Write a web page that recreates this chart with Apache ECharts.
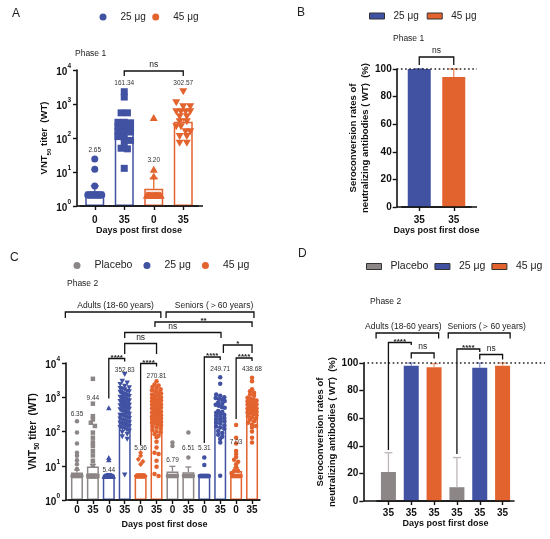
<!DOCTYPE html>
<html>
<head>
<meta charset="utf-8">
<title>VNT50 titers and seroconversion</title>
<style>
  html, body { margin: 0; padding: 0; background: #fff; }
  #main { width: 550px; height: 539px; }
</style>
<script src="https://cdn.jsdelivr.net/npm/echarts@6/dist/echarts.min.js"></script>
</head>
<body>
<div id="main"></div>
<script>
// ---------- data ----------

// A: phase 1, VNT50 titer (geometric means, upper error, individual titers)
const daysA = ['0', '35', '0', '35'];
const gmtA = [2.65, 161.34, 3.20, 302.57];
const gmtHiA = [3.9, 300, 6.6, 355];
const a25d0 = [24, 12, 3.9, 2.1, 2.1, 2.1, 2.1, 2.1, 2.1, 2.1, 2.1, 2.1, 2.1, 2.1, 2.1, 2.1, 2.1, 2.1, 2.1, 2.1];
const a25d35 = [2300, 1600, 550, 550, 290, 290, 280, 215, 215, 210, 160, 155, 150, 110, 105, 85, 70, 50, 48, 12.8];
const a45d0 = [400, 12, 7.6, 2.1, 2.1, 2.1, 2.1, 2.1, 2.1, 2.1, 2.1, 2.1, 2.1, 2.1, 2.1, 2.1, 2.1, 2.1, 2.1, 2.1];
const a45d35 = [2300, 1090, 830, 830, 590, 590, 590, 590, 423, 423, 300, 300, 215, 215, 153, 153, 110, 110, 70, 70];

// B: phase 1, seroconversion (%)
const daysB = ['35', '35'];
const seroB = [100, 94.2];
const seroHiB = [100, 100];

// C: phase 2, VNT50 titer; adults then seniors, each placebo / 25 / 45, day 0 and 35
const daysC = ['0', '35', '0', '35', '0', '35', '0', '35', '0', '35', '0', '35'];
const gmtC = [6.35, 9.44, 5.44, 352.83, 5.36, 270.81, 6.79, 6.51, 5.31, 249.71, 7.03, 438.68];
const gmtHiC = [7.5, 11, 5.9, 420, 5.7, 330, 9.6, 9.2, 5.5, 320, 8.6, 520];
const cPd0a = [200, 93, 45, 24, 19.5, 14.5, 11, 8, 5, 5, 5, 5, 5, 5, 5, 5, 5, 5, 5, 5, 5, 5, 5, 5];
const cPd35a = [3450, 650, 280, 225, 180, 145, 93, 66, 48, 38, 27, 20, 14, 10, 5, 5, 5, 5, 5, 5, 5, 5, 5, 5, 5, 5, 5, 5, 5, 5];
const c25d0a = [495, 17.4, 15, 5, 5, 5, 5, 5, 5, 5, 5, 5, 5, 5, 5, 5, 5, 5, 5, 5, 5, 5, 5, 5, 5];
const c25d35a = [4600, 2950, 2600, 2350, 2100, 1900, 1800, 1700, 1650, 1500, 1450, 1400, 1300, 1250, 1200,
  1150, 1100, 1050, 1000, 980, 950, 900, 880, 850, 820, 800, 780, 750, 720, 700, 690, 650, 640, 620, 600,
  580, 560, 550, 530, 510, 500, 480, 470, 450, 430, 420, 400, 390, 370, 350, 340, 320, 300, 290, 280, 260,
  250, 240, 230, 210, 200, 190, 180, 175, 165, 160, 150, 145, 140, 130, 125, 120, 110, 103, 95, 83, 70, 59, 5.4];
const c45d0a = [24, 19.5, 15.5, 13.3, 11.1, 5, 5, 5, 5, 5, 5, 5, 5, 5, 5, 5, 5, 5, 5, 5, 5, 5, 5, 5, 5, 5, 5, 5, 5];
const c45d35a = [2950, 2350, 2200, 2000, 1850, 1700, 1600, 1500, 1400, 1300, 1200, 1150, 1100, 1000, 950,
  900, 850, 800, 760, 720, 690, 650, 620, 600, 570, 540, 510, 490, 470, 450, 420, 400, 380, 360, 340, 330,
  310, 300, 280, 270, 260, 240, 230, 220, 210, 200, 190, 180, 170, 160, 150, 140, 130, 120, 110, 100, 95,
  85, 75, 68, 50, 34, 24, 22, 14, 9.3, 5.7, 5];
const cPd0s = [48, 38, 5, 5, 5, 5, 5, 5, 5, 5, 5, 5, 5, 5, 5, 5];
const cPd35s = [93, 17.4, 5, 5, 5, 5, 5, 5, 5, 5, 5, 5, 5, 5, 5, 5];
const c25d0s = [17.4, 10.6, 5, 5, 5, 5, 5, 5, 5, 5, 5, 5, 5, 5, 5, 5, 5, 5, 5, 5, 5, 5];
const c25d35s = [3840, 2460, 1200, 1100, 1000, 950, 900, 850, 780, 700, 650, 600, 560, 520, 490, 400, 380,
  350, 330, 310, 290, 270, 250, 230, 210, 200, 180, 170, 150, 140, 130, 120, 103, 90, 80, 70, 60, 48, 5.1];
const c45d0s = [155, 66, 45, 27, 22, 18, 15, 13, 11, 9, 7, 7, 6, 5, 5, 5, 5, 5, 5, 5, 5, 5, 5, 5, 5, 5, 5];
const c45d35s = [3700, 2950, 1700, 1500, 1350, 1200, 1100, 970, 900, 850, 800, 760, 720, 680, 650, 620, 600,
  570, 550, 520, 500, 480, 460, 440, 420, 400, 380, 360, 340, 320, 300, 280, 260, 240, 220, 200, 180, 160,
  145, 130, 100, 66, 48];

// D: phase 2, seroconversion (%)
const daysD = ['35', '35', '35', '35', '35', '35'];
const seroD = [21, 98, 97, 10, 96.5, 98];
const seroHiD = [35, 100, 99.5, 31.5, 100, 100];

// ---------- styling ----------
const FONT = 'Arial, "Liberation Sans", sans-serif';
const BLUE = '#4152A3', ORANGE = '#E3632E', GRAY = '#8C8686', INK = '#111';
const colA = [BLUE, BLUE, ORANGE, ORANGE];
const colC = [GRAY, GRAY, BLUE, BLUE, ORANGE, ORANGE, GRAY, GRAY, BLUE, BLUE, ORANGE, ORANGE];
const colD = [GRAY, BLUE, ORANGE, GRAY, BLUE, ORANGE];
const errD = ['#BDB7B7', '#8A96D0', '#EFA17F', '#BDB7B7', '#8A96D0', '#EFA17F'];
const INV_TRI = 'path://M0,0L10,0L5,8.66Z';

// where the mean values are written (data units)
const labelAtA = [44, 4050, 22.5, 4050];
const labelAtC = [316, 910, 7.6, 6000, 32, 4100, 14.6, 32, 32, 6400, 48, 6400];

const grids = [
  { left: 80, top: 70, width: 118, height: 136 },   // A
  { left: 402, top: 69, width: 69, height: 138 },   // B
  { left: 69, top: 363, width: 191, height: 137 },  // C
  { left: 377, top: 363, width: 137, height: 138 }  // D
];

// spread tied values sideways so every point stays visible
function swarm(values, cat, decadePx, size, halfWidth) {
  const bins = new Map();
  values.forEach(v => {
    const k = Math.round(Math.log10(v) * decadePx / (size * 0.8));
    if (!bins.has(k)) bins.set(k, []);
    bins.get(k).push(v);
  });
  const out = [];
  bins.forEach(list => {
    const n = list.length;
    const gap = n > 1 ? Math.min(size * 0.9, 2 * halfWidth / (n - 1)) : 0;
    list.forEach((v, j) => out.push({ value: [cat, v], symbolOffset: [(j - (n - 1) / 2) * gap, 0] }));
  });
  return out;
}

function dots(name, gi, values, cat, symbol, size, color) {
  const s = Array.isArray(size) ? size[0] : size;
  const g = grids[gi];
  const half = gi === 0 ? 7 : 4.5;
  return {
    type: 'scatter', name, xAxisIndex: gi, yAxisIndex: gi, symbol, symbolSize: size,
    z: 3, silent: true, itemStyle: { color, opacity: 1 },
    data: swarm(values, cat, g.height / 4, s, half)
  };
}

function bars(gi, values, colors, width, hollow) {
  return {
    type: 'bar', xAxisIndex: gi, yAxisIndex: gi, barWidth: width, z: 2, silent: true,
    data: values.map((v, i) => ({
      value: v,
      itemStyle: hollow ? { color: '#fff', borderColor: colors[i], borderWidth: 1.5 } : { color: colors[i] }
    }))
  };
}

function errorBars(gi, means, his, colors, capW) {
  return {
    type: 'custom', xAxisIndex: gi, yAxisIndex: gi, z: 4, silent: true, clip: false,
    data: means.map((m, i) => [i, m, his[i]]),
    encode: { x: 0, y: [1, 2] },
    renderItem(params, api) {
      const c = api.value(0);
      const mid = api.coord([c, api.value(1)]);
      const top = api.coord([c, api.value(2)]);
      const st = { stroke: colors[params.dataIndex], lineWidth: 1.3 };
      return {
        type: 'group', children: [
          { type: 'line', shape: { x1: mid[0], y1: mid[1], x2: top[0], y2: top[1] }, style: st },
          { type: 'line', shape: { x1: top[0] - capW / 2, y1: top[1], x2: top[0] + capW / 2, y2: top[1] }, style: st }
        ]
      };
    }
  };
}

function meanLabels(gi, means, at, size) {
  return {
    type: 'custom', xAxisIndex: gi, yAxisIndex: gi, z: 5, silent: true, clip: false,
    data: means.map((m, i) => [i, at[i]]),
    renderItem(params, api) {
      const p = api.coord([api.value(0), api.value(1)]);
      return {
        type: 'text', x: p[0], y: p[1],
        style: { text: means[params.dataIndex].toFixed(2), align: 'center', verticalAlign: 'middle',
                 font: size + 'px ' + FONT, fill: '#333' }
      };
    }
  };
}

// significance / group brackets: c = category position, top/l1/l2 = px from grid top
function brackets(gi, list, yRef) {
  return {
    type: 'custom', xAxisIndex: gi, yAxisIndex: gi, z: 6, silent: true, clip: false,
    data: list.map(() => [0, yRef]),
    renderItem(params, api) {
      const b = list[params.dataIndex];
      const cs = params.coordSys;
      const x0 = api.coord([0, yRef])[0];
      const band = api.coord([1, yRef])[0] - x0;
      const xa = x0 + b.c1 * band, xb = x0 + b.c2 * band, yt = cs.y + b.top;
      const star = b.text.charAt(0) === '*';
      return {
        type: 'group', children: [
          { type: 'polyline', shape: { points: [[xa, cs.y + b.l1], [xa, yt], [xb, yt], [xb, cs.y + b.l2]] },
            style: { stroke: INK, lineWidth: 1.3, fill: 'none' } },
          { type: 'text', x: (xa + xb) / 2 + (b.dx || 0), y: star ? yt + 3 : yt - 1.5,
            style: { text: b.text, align: 'center', verticalAlign: 'bottom', fill: '#222',
                     font: (star ? 'bold 8px ' : (b.size || 8.5) + 'px ') + FONT } }
        ]
      };
    }
  };
}

// bottom axis line reaching the offset y axis, plus optional dotted 100 % line
function frame(gi, yRef, left, right, dotted) {
  return {
    type: 'custom', xAxisIndex: gi, yAxisIndex: gi, z: 7, silent: true, clip: false,
    data: [[0, yRef]],
    renderItem(params, api) {
      const cs = params.coordSys;
      const kids = [{ type: 'line', shape: { x1: cs.x - left, y1: cs.y + cs.height, x2: cs.x + cs.width + right.axis, y2: cs.y + cs.height },
                      style: { stroke: INK, lineWidth: 1.6 } }];
      if (dotted) {
        const y = api.coord([0, 100])[1];
        kids.push({ type: 'line', shape: { x1: cs.x - left, y1: y, x2: cs.x + cs.width + right.dot, y2: y },
                    style: { stroke: '#222', lineWidth: 1.4, lineDash: [1.6, 2.6] } });
      }
      return { type: 'group', children: kids };
    }
  };
}

const axisLineStyle = { show: true, lineStyle: { color: INK, width: 1.6 } };
const tickStyle = { show: true, length: 4, lineStyle: { color: INK, width: 1.4 } };

function xAxis(gi, days, margin, gap) {
  return {
    type: 'category', gridIndex: gi, data: days,
    axisLine: axisLineStyle,
    axisTick: Object.assign({ alignWithLabel: true, interval: 0 }, tickStyle),
    axisLabel: { interval: 0, margin, color: INK, fontWeight: 'bold', fontSize: 10, fontFamily: FONT },
    name: 'Days post first dose', nameLocation: 'middle', nameGap: gap,
    nameTextStyle: { color: INK, fontWeight: 'bold', fontSize: 9, fontFamily: FONT }
  };
}

function logAxis(gi, offset, gap, nameSize) {
  return {
    type: 'log', logBase: 10, gridIndex: gi, min: 1, max: 10000, offset,
    axisLine: axisLineStyle, axisTick: tickStyle, splitLine: { show: false },
    axisLabel: {
      margin: 6, color: INK,
      formatter: v => '{b|10}{p|' + Math.round(Math.log10(v)) + '}',
      rich: {
        b: { fontSize: 10, fontWeight: 'bold', color: INK, fontFamily: FONT, lineHeight: 14, verticalAlign: 'bottom' },
        p: { fontSize: 6.5, fontWeight: 'bold', color: INK, fontFamily: FONT, verticalAlign: 'top' }
      }
    },
    name: '{n|VNT}{s|50}{n| titer  (WT)}', nameLocation: 'middle', nameRotate: 90, nameGap: gap,
    nameTextStyle: {
      rich: {
        n: { fontSize: nameSize, fontWeight: 'bold', color: INK, fontFamily: FONT, lineHeight: 16, verticalAlign: 'middle' },
        s: { fontSize: nameSize * 0.65, fontWeight: 'bold', color: INK, fontFamily: FONT, verticalAlign: 'bottom' }
      }
    }
  };
}

function pctAxis(gi, offset, gap) {
  return {
    type: 'value', gridIndex: gi, min: 0, max: 100, interval: 20, offset,
    axisLine: axisLineStyle, axisTick: tickStyle, splitLine: { show: false },
    axisLabel: { margin: 5, color: INK, fontWeight: 'bold', fontSize: 10, fontFamily: FONT },
    name: 'Seroconversion rates of\nneutralizing antibodies ( WT)  (%)',
    nameLocation: 'middle', nameRotate: 90, nameGap: gap,
    nameTextStyle: { color: INK, fontWeight: 'bold', fontSize: 9.5, lineHeight: 11.5, fontFamily: FONT }
  };
}

function legend(left, top, names, rect, size, gap) {
  return {
    left, top, itemGap: gap, selectedMode: false, padding: 0, width: 200,
    itemWidth: rect ? 15 : 7, itemHeight: rect ? 6 : 7, icon: rect ? 'rect' : 'circle',
    itemStyle: rect ? { borderColor: '#333', borderWidth: 1 } : { borderWidth: 0 },
    textStyle: { fontSize: size, color: '#222', fontFamily: FONT, padding: [0, 0, 0, rect ? 4 : 9] },
    data: names
  };
}

function label(text, x, y, size, weight) {
  return { type: 'text', x, y, style: { text, font: (weight || 'normal') + ' ' + size + 'px ' + FONT,
           fill: '#222', align: 'left', verticalAlign: 'middle' } };
}

const bracketsA = [{ c1: 1, c2: 3, top: 1, l1: 6, l2: 6, text: 'ns' }];
const bracketsB = [{ c1: 0, c2: 1, top: -12, l1: -4, l2: -4, text: 'ns' }];
const bracketsC = [
  { c1: -0.73, c2: 5.27, top: -51, l1: -45, l2: -45, text: 'Adults (18-60 years)', dx: 2.5 },
  { c1: 5.6, c2: 11.12, top: -51, l1: -45, l2: -45, text: 'Seniors (＞60 years)', dx: 4 },
  { c1: 4.9, c2: 11, top: -41, l1: -36, l2: -36, text: '**' },
  { c1: 3, c2: 9.05, top: -30.5, l1: -25, l2: -25, text: 'ns' },
  { c1: 3, c2: 5, top: -19.5, l1: -9, l2: -9, text: 'ns' },
  { c1: 9.2, c2: 11, top: -18, l1: -10, l2: -10, text: '*' },
  { c1: 2, c2: 3, top: -4.5, l1: 35.5, l2: -1.5, text: '****' },
  { c1: 4, c2: 5, top: 0.5, l1: 82, l2: 3.5, text: '****' },
  { c1: 8, c2: 9, top: -6, l1: 80, l2: -3, text: '****' },
  { c1: 10, c2: 11, top: -5, l1: 56, l2: -2, text: '****' }
];
const bracketsD = [
  { c1: -0.54, c2: 2.2, top: -30, l1: -24.5, l2: -24.5, text: 'Adults (18-60 years)', dx: -4 },
  { c1: 2.62, c2: 5.33, top: -30, l1: -24.5, l2: -24.5, text: 'Seniors (＞60 years)', dx: 7.5 },
  { c1: 0, c2: 1, top: -20.5, l1: 87, l2: -18, text: '****' },
  { c1: 1, c2: 2, top: -10, l1: -4.5, l2: -4.5, text: 'ns' },
  { c1: 3, c2: 4, top: -14, l1: 91, l2: -11, text: '****' },
  { c1: 4, c2: 5, top: -8.5, l1: -3.5, l2: -3.5, text: 'ns' }
];

const option = {
  animation: false,
  textStyle: { fontFamily: FONT },
  grid: grids,
  legend: [
    legend(99.5, 12, ['25 μg', '45 μg'], false, 10, 6.5),
    legend(369, 11, ['25 μg', '45 μg'], true, 10, 8),
    legend(73.5, 260, ['Placebo', '25 μg', '45 μg'], false, 10.5, 11),
    legend(366, 261, ['Placebo', '25 μg', '45 μg'], true, 10.5, 6)
  ],
  xAxis: [xAxis(0, daysA, 9, 18), xAxis(1, daysB, 8, 19), xAxis(2, daysC, 5, 20), xAxis(3, daysD, 7, 16)],
  yAxis: [logAxis(0, 3, 24, 9.5), pctAxis(1, 5.3, 25), logAxis(2, 3, 25, 10), pctAxis(3, 13.7, 19)],
  graphic: [
    label('A', 12, 14, 12), label('B', 297, 13, 12), label('C', 10, 258, 12), label('D', 298, 254, 12),
    label('Phase 1', 75, 54, 8.5), label('Phase 1', 393, 39, 8.5),
    label('Phase 2', 67, 284, 8.5), label('Phase 2', 370, 302, 8.5)
  ],
  series: [
    // A
    bars(0, gmtA, colA, 19, true),
    dots('25 μg', 0, a25d0, 0, 'circle', 7, BLUE),
    dots('25 μg', 0, a25d35, 1, 'rect', 7, BLUE),
    dots('45 μg', 0, a45d0, 2, 'triangle', [8, 7], ORANGE),
    dots('45 μg', 0, a45d35, 3, INV_TRI, [8, 7], ORANGE),
    errorBars(0, gmtA, gmtHiA, colA, 8),
    meanLabels(0, gmtA, labelAtA, 6.5),
    brackets(0, bracketsA, 1),
    frame(0, 1, 3, { axis: 5, dot: 0 }, false),
    // B
    bars(1, seroB, [BLUE, ORANGE], 23, false),
    errorBars(1, seroB, seroHiB, [BLUE, '#EE8A60'], 10),
    brackets(1, bracketsB, 50),
    frame(1, 50, 5.3, { axis: 6, dot: 6 }, true),
    // C
    bars(2, gmtC, colC, 12, true),
    dots('Placebo', 2, cPd0a, 0, 'circle', 4.5, GRAY),
    dots('Placebo', 2, cPd35a, 1, 'rect', 4.5, GRAY),
    dots('25 μg', 2, c25d0a, 2, 'triangle', [5.5, 5], BLUE),
    dots('25 μg', 2, c25d35a, 3, INV_TRI, [5.5, 5], BLUE),
    dots('45 μg', 2, c45d0a, 4, 'diamond', [5, 5.5], ORANGE),
    dots('45 μg', 2, c45d35a, 5, 'circle', 4.5, ORANGE),
    dots('Placebo', 2, cPd0s, 6, 'circle', 4.5, GRAY),
    dots('Placebo', 2, cPd35s, 7, 'circle', 4.5, GRAY),
    dots('25 μg', 2, c25d0s, 8, 'circle', 4.5, BLUE),
    dots('25 μg', 2, c25d35s, 9, 'circle', 4.5, BLUE),
    dots('45 μg', 2, c45d0s, 10, 'circle', 4.5, ORANGE),
    dots('45 μg', 2, c45d35s, 11, 'circle', 4.5, ORANGE),
    errorBars(2, gmtC, gmtHiC, colC, 6),
    meanLabels(2, gmtC, labelAtC, 6.5),
    brackets(2, bracketsC, 1),
    frame(2, 1, 3, { axis: 0, dot: 0 }, false),
    // D
    bars(3, seroD, colD, 15, false),
    errorBars(3, seroD, seroHiD, errD, 8),
    brackets(3, bracketsD, 50),
    frame(3, 50, 13.7, { axis: -4, dot: 31 }, true)
  ]
};

const chart = echarts.init(document.getElementById('main'), null, { renderer: 'canvas' });
chart.setOption(option);
</script>
</body>
</html>
